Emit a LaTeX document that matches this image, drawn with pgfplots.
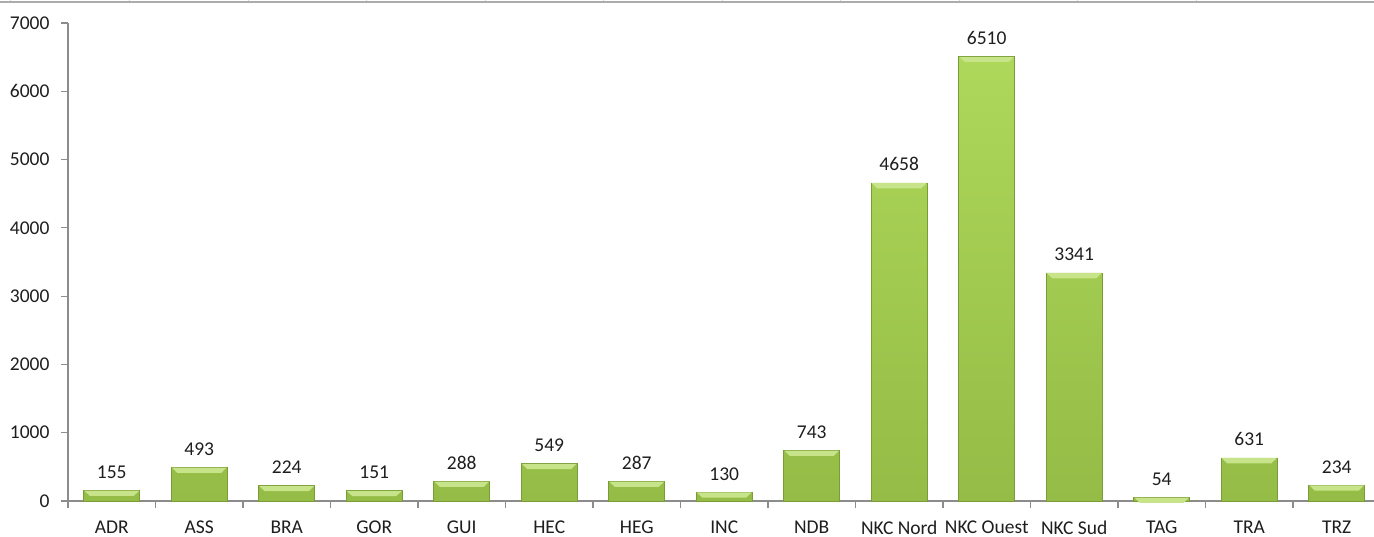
\documentclass[border=0pt]{standalone}
\usepackage{pgfplots}
\pgfplotsset{compat=1.18}
\usepackage{fontspec}
\setmainfont{Carlito}
\definecolor{axisgray}{HTML}{8C8C8C}
\definecolor{bartop}{HTML}{ADD85A}
\definecolor{barbot}{HTML}{95BC46}
\definecolor{baredge}{HTML}{7A9C36}
\definecolor{bevel}{HTML}{C8E48A}
\definecolor{txt}{HTML}{1E1E1E}
\pgfdeclareplotmark{bevel}{%
  \pgfpathmoveto{\pgfqpoint{-27.4pt}{-0.3pt}}%
  \pgfpathlineto{\pgfqpoint{27.4pt}{-0.3pt}}%
  \pgfpathlineto{\pgfqpoint{22pt}{-5.5pt}}%
  \pgfpathlineto{\pgfqpoint{-22pt}{-5.5pt}}%
  \pgfpathclose
  \pgfusepathqfill}
\pgfplotstableread{
x y
0 155
1 493
2 224
3 151
4 288
5 549
6 287
7 130
8 743
9 4658
10 6510
11 3341
12 54
13 631
14 234
}\datatable
\begin{document}
\begin{tikzpicture}
\begin{axis}[
  name=ax,
  scale only axis,
  width=1306pt, height=478pt,
  xmin=-0.5, xmax=14.426, ymin=0, ymax=7000,
  axis x line*=bottom, axis y line*=left,
  axis line style={draw=axisgray, line width=1.3pt},
  ytick={0,1000,...,7000},
  xtick={0,...,14},
  xticklabels={ADR,ASS,BRA,GOR,GUI,HEC,HEG,INC,NDB,NKC Nord,NKC Ouest,NKC Sud,TAG,TRA,TRZ},
  minor xtick={-0.5,0.5,...,13.5},
  major x tick style={draw=none},
  tick align=outside,
  major tick length=7pt, minor tick length=7pt,
  every tick/.style={draw=axisgray, line width=1.1pt},
  scaled y ticks=false,
  /pgf/number format/1000 sep={},
  /pgf/number format/assume math mode=true,
  ticklabel style={font=\fontsize{19.5}{22}\selectfont, text=txt},
  yticklabel style={xshift=-8pt},
  xticklabel style={yshift=-9pt},
  clip=false,
]
\addplot[ybar, bar width=56pt, draw=baredge, line width=0.6pt, top color=bartop, bottom color=barbot,
  nodes near coords,
  nodes near coords style={font=\fontsize{19.5}{22}\selectfont, text=txt, anchor=base, yshift=12pt, inner sep=0pt}]
  table[x=x, y=y] {\datatable};
\addplot[only marks, mark=bevel, mark options={fill=bevel, draw=none}] table[x=x, y=y] {\datatable};
\end{axis}
\pgfresetboundingbox
\path[use as bounding box] ([xshift=-68pt,yshift=-36pt]ax.south west) rectangle ([yshift=23pt]ax.north east);
\draw[draw=gray!65, line width=1.5pt] ([xshift=-68pt,yshift=21pt]ax.north west) -- ([yshift=21pt]ax.north east);
\foreach \i in {0,...,10} {
  \draw[draw={rgb,255:red,205;green,212;blue,235}, line width=1pt] ([xshift=-68pt+11pt+\i*118.5pt,yshift=21.5pt]ax.north west) -- ++(0,1.5pt);
}
\end{tikzpicture}
\end{document}
